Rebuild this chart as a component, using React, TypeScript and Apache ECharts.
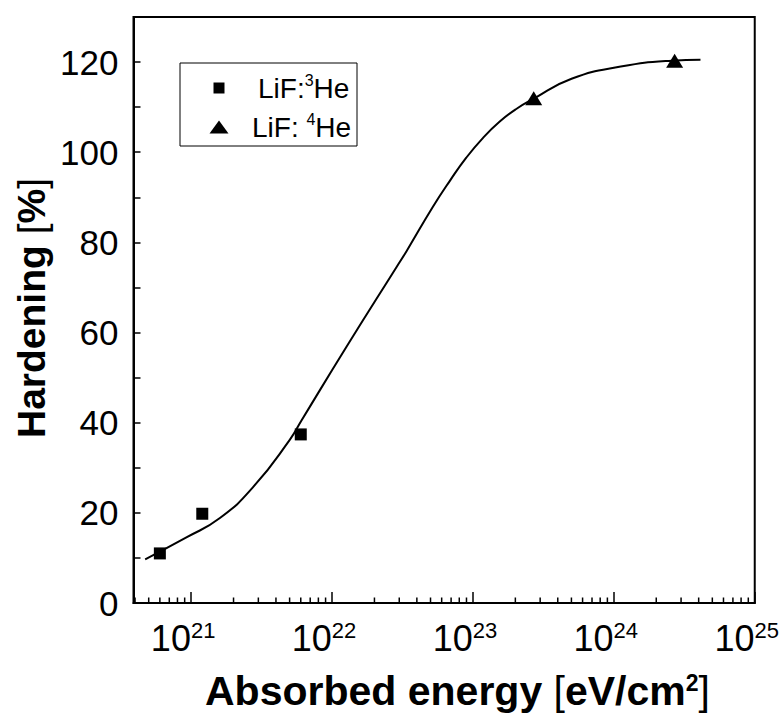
import React, { useEffect, useRef } from "react";
import * as echarts from "echarts";

const he3X = [6.0e20, 1.2e21, 6.0e21];
const he3Y = [11.0, 19.8, 37.4];
const he4X = [2.7e23, 2.7e24];
const he4Y = [112.0, 120.3];

// Fitted curve
const fitX = [4.72e20, 9.33e20, 1.61e21, 2.77e21, 5.01e21, 6.1e21, 1.27e22, 2.88e22, 3.37e22, 5.2e22, 6.84e22, 8.97e22, 1.18e23, 1.55e23, 2.03e23, 2.67e23, 5.01e23, 1.12e24, 2.57e24, 4.12e24];
const fitY = [9.7, 14.6, 18.9, 25.8, 36.2, 40.6, 56.9, 74.6, 78.0, 87.9, 93.6, 98.8, 103.2, 106.8, 109.6, 111.8, 116.3, 119.0, 120.3, 120.5];

const xMin = 3.9e20;
const xMax = 1e25;
const minorMantissas = [2, 3, 4, 5, 6, 7, 8, 9];
const minorExponents = [20, 21, 22, 23, 24];

const FONT = '"Liberation Sans", Arial, Helvetica, sans-serif';

export default function App() {
  const ref = useRef<HTMLDivElement>(null);
  useEffect(() => {
    if (!ref.current) return;
    const chart = echarts.init(ref.current, null, { renderer: "svg" });
    const minorTicks: number[][] = [];
    minorExponents.forEach((e) =>
      minorMantissas.forEach((m) => {
        const v = m * Math.pow(10, e);
        if (v > xMin && v < xMax) minorTicks.push([v, 0]);
      })
    );
    const supRich = (size: number, sup: number, bold?: boolean) => ({
      a: { fontSize: size, fontFamily: FONT, fill: "#000", color: "#000", lineHeight: size + 3, fontWeight: bold ? "bold" : "normal" },
      s: { fontSize: sup, fontFamily: FONT, fill: "#000", color: "#000", lineHeight: sup, verticalAlign: "top", fontWeight: bold ? "bold" : "normal" },
    });
    const option: any = {
      animation: false,
      backgroundColor: "#fff",
      grid: {
        left: 133.5,
        right: 27,
        top: 17,
        bottom: 110,
        show: true,
        borderColor: "#000",
        borderWidth: 2,
        backgroundColor: "transparent",
      },
      xAxis: {
        type: "log",
        logBase: 10,
        min: xMin,
        max: xMax,
        axisLine: { show: true, lineStyle: { color: "#000", width: 2 } },
        axisTick: { show: true, inside: true, length: 11, lineStyle: { color: "#000", width: 1.5 } },
        splitLine: { show: false },
        minorTick: { show: false },
        axisLabel: {
          margin: 16,
          showMinLabel: false,
          showMaxLabel: true,
          color: "#000",
          fontFamily: FONT,
          padding: [0, 16, 0, 0],
          formatter: (v: number) => {
            const l = Math.log10(v);
            const e = Math.round(l);
            if (Math.abs(l - e) > 1e-6) return "";
            return `{a|10}{s|${e}}`;
          },
          rich: supRich(36, 22),
        },
      },
      yAxis: {
        type: "value",
        min: 0,
        max: 130,
        interval: 10,
        axisLine: { show: true, lineStyle: { color: "#000", width: 2 } },
        axisTick: { show: true, inside: true, length: 7, lineStyle: { color: "#000", width: 1.5 } },
        splitLine: { show: false },
        axisLabel: {
          margin: 15,
          color: "#000",
          fontSize: 35,
          fontFamily: FONT,
          formatter: (v: number) => (v % 20 === 0 ? String(v) : ""),
        },
      },
      series: [
        {
          name: "fit",
          type: "line",
          data: fitX.map((x, i) => [x, fitY[i]]),
          smooth: 0.5,
          showSymbol: false,
          symbol: "none",
          lineStyle: { color: "#000", width: 2 },
          z: 2,
        },
        {
          name: "LiF:3He",
          type: "scatter",
          symbol: "rect",
          symbolSize: 12,
          itemStyle: { color: "#000", opacity: 1 },
          data: he3X.map((x, i) => [x, he3Y[i]]),
          z: 3,
        },
        {
          name: "LiF: 4He",
          type: "scatter",
          symbol: "triangle",
          symbolSize: [17, 14],
          itemStyle: { color: "#000", opacity: 1 },
          data: he4X.map((x, i) => [x, he4Y[i]]),
          z: 3,
        },
        {
          name: "minorTicks",
          type: "custom",
          silent: true,
          clip: false,
          data: minorTicks,
          encode: { x: 0, y: 1 },
          renderItem: (params: any, api: any) => {
            const p = api.coord([api.value(0), 0]);
            return {
              type: "line",
              shape: { x1: p[0], y1: p[1], x2: p[0], y2: p[1] - 5.5 },
              style: { stroke: "#000", lineWidth: 1.5 },
            };
          },
          z: 4,
        },
      ],
      graphic: [
        {
          type: "rect",
          shape: { x: 180, y: 63, width: 177, height: 83 },
          style: { fill: "#fff", stroke: "#000", lineWidth: 1 },
          z: 10,
        },
        {
          type: "rect",
          shape: { x: 213.5, y: 82.5, width: 11, height: 11 },
          style: { fill: "#000" },
          z: 11,
        },
        {
          type: "polygon",
          shape: { points: [[219, 120.5], [228.5, 133.5], [209.5, 133.5]] },
          style: { fill: "#000" },
          z: 11,
        },
        {
          type: "text",
          x: 258,
          y: 88,
          z: 11,
          style: {
            text: "{a|LiF:}{s|3}{a|He}",
            verticalAlign: "middle",
            align: "left",
            rich: supRich(28, 16),
          },
        },
        {
          type: "text",
          x: 252,
          y: 127,
          z: 11,
          style: {
            text: "{a|LiF: }{s|4}{a|He}",
            verticalAlign: "middle",
            align: "left",
            rich: supRich(28, 16),
          },
        },
        {
          type: "text",
          x: 205,
          y: 691,
          z: 11,
          style: {
            text: "{t|Absorbed energy }{r|[}{t|eV/cm}{s|2}{r|]}",
            verticalAlign: "middle",
            align: "left",
            rich: {
              t: { fontSize: 41, fontWeight: "bold", fontFamily: FONT, fill: "#000", lineHeight: 40 },
              r: { fontSize: 41, fontFamily: FONT, fill: "#000", lineHeight: 40 },
              s: { fontSize: 23, fontWeight: "bold", fontFamily: FONT, fill: "#000", lineHeight: 23, verticalAlign: "top" },
            },
          },
        },
        {
          type: "text",
          x: 31,
          y: 308,
          rotation: Math.PI / 2,
          z: 11,
          style: {
            text: "{t|Hardening }{r|[}{t|%}{r|]}",
            verticalAlign: "middle",
            align: "center",
            rich: {
              t: { fontSize: 39, fontWeight: "bold", fontFamily: FONT, fill: "#000", lineHeight: 42 },
              r: { fontSize: 39, fontFamily: FONT, fill: "#000", lineHeight: 42 },
            },
          },
        },
      ],
    };
    chart.setOption(option);
    return () => chart.dispose();
  }, []);
  return (
    <div
      ref={ref}
      style={{ position: "fixed", left: 0, top: 0, width: 782, height: 713, background: "#fff" }}
    />
  );
}
